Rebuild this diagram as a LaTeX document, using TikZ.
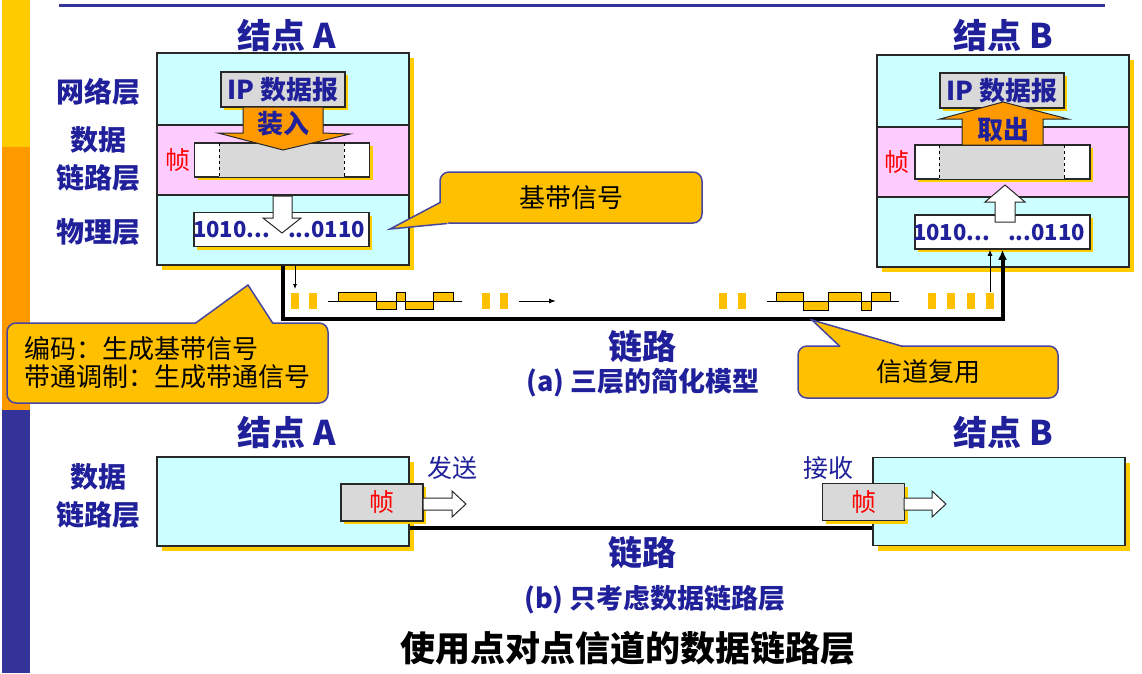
\documentclass[tikz,border=0pt]{standalone}
\usepackage{fontspec}
\setmainfont{Noto Sans CJK SC}
\usetikzlibrary{shadows,calc,arrows.meta}
\definecolor{navy}{RGB}{32,32,154}
\definecolor{stripblue}{RGB}{51,51,153}
\definecolor{cyanlayer}{RGB}{204,255,255}
\definecolor{pinklayer}{RGB}{255,204,255}
\definecolor{shyellow}{RGB}{255,204,0}
\definecolor{orangearrow}{RGB}{255,153,0}
\definecolor{callfill}{RGB}{255,192,0}
\definecolor{callline}{RGB}{70,70,160}
\definecolor{framegray}{RGB}{217,217,217}
\definecolor{edge}{RGB}{40,40,40}

\begin{document}
\begin{tikzpicture}[x=1pt,y=-1pt,
    title/.style={text=navy,font=\bfseries\fontsize{34}{40}\selectfont},
    layer/.style={text=navy,align=center,font=\bfseries\fontsize{28}{38}\selectfont},
    subcap/.style={text=navy,font=\bfseries\fontsize{27}{30}\selectfont},
    smalltext/.style={text=navy,font=\fontsize{25}{28}\selectfont},
    box/.style={draw=edge,line width=1.5pt,inner sep=0pt},
    yshadow/.style={drop shadow={shadow xshift=5pt,shadow yshift=-5pt,fill=shyellow,opacity=1}},
    yshadowsmall/.style={drop shadow={shadow xshift=3pt,shadow yshift=-3pt,fill=shyellow,opacity=1}},
    node box/.style={box,yshadow,fill=cyanlayer,minimum width=252pt},
    ipbox/.style={box,yshadowsmall,fill=framegray,minimum width=124pt,minimum height=35pt,text=navy,font=\bfseries\fontsize{26}{30}\selectfont},
    framebox/.style={box,yshadowsmall,fill=white,minimum width=175pt,minimum height=34pt},
    bits/.style={text=navy,font=\bfseries\fontsize{22}{26}\selectfont,inner sep=0pt},
    zhen/.style={text=red,font=\fontsize{25}{28}\selectfont},
    fatarrow/.style={draw=edge,line width=1pt},
    link/.style={line width=4pt},
    callbox/.style={draw=callline,fill=callfill,line width=1.5pt,rounded corners=9pt,font=\fontsize{26}{28}\selectfont},
    tail/.style={draw=callline,line width=1.5pt},
    pulse/.style={fill=callfill},
    wave/.style={fill=callfill,draw=black,line width=1pt}
  ]
  \useasboundingbox (0,0) rectangle (1142,673);
  \fill[shyellow] (2,0) rectangle (30,147);
  \fill[orangearrow] (2,147) rectangle (30,410);
  \fill[stripblue] (2,410) rectangle (30,673);
  \draw[stripblue,line width=3pt] (59,5) -- (1105,5);

  \node[node box,minimum height=212pt] (A) at (283,159) {};
  \node[box,fill=pinklayer,minimum width=252pt,minimum height=70pt] (Adl) at (283,160) {};
  \node[title] (Atitle) at (287,35) {结点 A};
  \node[layer] (Anet) at (98,92) {网络层};
  \node[layer] (Adll) at (98,159) {数据\\链路层};
  \node[layer] (Aphy) at (98,232) {物理层};
  \node[framebox] (Afr) at (282,160) {};
  \fill[framegray] (219,143.5) rectangle (344,176.5);
  \draw[dashed,line width=1pt] (219,143) -- (219,177) (344,143) -- (344,177);
  \node[zhen] (Azhen) at (178,160) {帧};
  \node[ipbox] (Aip) at (283,89.5) {IP 数据报};
  \filldraw[fatarrow,fill=orangearrow] (243,107) -- (323,107) -- (323,133) -- (350,134) -- (283,150) -- (218,133) -- (243,133) -- cycle;
  \node[layer,font=\bfseries\fontsize{26}{30}\selectfont] (Ain) at (283,124) {装入};
  \node[framebox] (Aph) at (281.5,229.5) {};
  \node[bits,anchor=east] (Abits1) at (270,230) {1010...};
  \node[bits,anchor=west] (Abits2) at (288,230) {...0110};
  \filldraw[fatarrow,fill=white] (273,196) -- (292,196) -- (292,218) -- (301,218) -- (282,233) -- (263,218) -- (273,218) -- cycle;

  \node[node box,minimum height=212pt] (B) at (1003,161) {};
  \node[box,fill=pinklayer,minimum width=252pt,minimum height=70pt] (Bdl) at (1003,162) {};
  \node[title] (Btitle) at (1003,35) {结点 B};
  \node[framebox] (Bfr) at (1002.5,162) {};
  \fill[framegray] (939,145.5) rectangle (1064,178.5);
  \draw[dashed,line width=1pt] (939,145) -- (939,179) (1064,145) -- (1064,179);
  \node[zhen] (Bzhen) at (897,162) {帧};
  \node[ipbox] (Bip) at (1002,90.5) {IP 数据报};
  \filldraw[fatarrow,fill=orangearrow] (962,145) -- (1043,145) -- (1043,119) -- (1068,119) -- (1003,102) -- (940,119) -- (962,119) -- cycle;
  \node[layer,font=\bfseries\fontsize{26}{30}\selectfont] (Bout) at (1003,130) {取出};
  \node[framebox] (Bph) at (1002.5,232) {};
  \node[bits,anchor=east] (Bbits1) at (990,233) {1010...};
  \node[bits,anchor=west] (Bbits2) at (1008,233) {...0110};
  \filldraw[fatarrow,fill=white] (995,222) -- (1015,222) -- (1015,202) -- (1025,202) -- (1005,185) -- (985,202) -- (995,202) -- cycle;

  \draw[link,-{Latex[length=10pt,width=9pt]}] (A.south) -- ++(0,53) -| (Bph.south);
  \coordinate (ta) at (295,289);
  \draw[-{Latex[length=5pt,width=4pt]},line width=0.8pt] (A.south -| ta) -- (ta);
  \coordinate (tb) at (990,292);
  \draw[-{Latex[length=6pt,width=5pt]},line width=1pt] (tb) -- (Bph.south -| tb);
  \foreach \x in {291,309,482,500,719,738,928,947,967,986}
    \fill[pulse] (\x,293) rectangle ++(8,16);
  \draw[line width=1pt] (328,301) -- (462,301) (767,301) -- (899,301);
  \foreach \a/\b/\c in {338/376/292,376/396/309,396/405/292,405/433/309,433/453/292,
                        776/803/292,803/828/310,828/861/292,861/871/310,871/890/292}
    \filldraw[wave] (\a,301) rectangle (\b,\c);
  \coordinate (wa1) at (519,301);
  \coordinate (wa2) at (556,301);
  \draw[-{Latex[length=7pt,width=5pt]},line width=1pt] (wa1) -- (wa2);

  \node[callbox,minimum width=262pt,minimum height=51pt] (cb1) at (571,197.5) {基带信号};
  \fill[callfill] (441,202) -- (390,229) -- (447,223.5) -- (452,219) -- (452,202) -- cycle;
  \draw[tail] (441,202) -- (390,229) -- (447,223.5);
  \node[callbox,minimum width=321pt,minimum height=80pt,align=left] (cb2) at (167.5,363) {编码：生成基带信号\\带通调制：生成带通信号};
  \fill[callfill] (195,324) -- (248,285) -- (273,324) -- (273,328) -- (195,328) -- cycle;
  \draw[tail] (195,323.5) -- (248,285) -- (273,323.5);
  \node[callbox,minimum width=260pt,minimum height=52pt] (cb3) at (928,372) {信道复用};
  \fill[callfill] (840,347) -- (812,320) -- (903,347) -- (903,351) -- (840,351) -- cycle;
  \draw[tail] (840,346.5) -- (812,320) -- (903,346.5);

  \node[title] (linka) at (642,347) {链路};
  \node[subcap] (capa) at (643,383) {(a) 三层的简化模型};

  \node[title] (A2title) at (287,432) {结点 A};
  \node[title] (B2title) at (1003,432) {结点 B};
  \node[layer] (A2dll) at (98,496) {数据\\链路层};
  \node[node box,minimum height=89pt] (A2) at (283,501.5) {};
  \node[node box,minimum height=88pt] (B2) at (999,501.5) {};
  \draw[link] ($(A2.east)+(0,26.5)$) -- ($(B2.west)+(0,26.5)$);
  \node[box,yshadowsmall,fill=framegray,minimum width=82pt,minimum height=37pt,zhen] (A2fr) at (382,502.5) {帧};
  \filldraw[fatarrow,fill=white] (423,498) -- (452,498) -- (452,491) -- (466,504) -- (452,517) -- (452,510) -- (423,510) -- cycle;
  \node[smalltext] (send) at (452,468) {发送};
  \node[box,yshadowsmall,fill=framegray,minimum width=82pt,minimum height=37pt,zhen] (B2fr) at (863.5,502) {帧};
  \filldraw[fatarrow,fill=white] (904,498) -- (932,498) -- (932,491) -- (946,504) -- (932,517) -- (932,510) -- (904,510) -- cycle;
  \node[smalltext] (recv) at (828,468) {接收};
  \node[title] (linkb) at (642,553) {链路};
  \node[subcap] (capb) at (655,600) {(b) 只考虑数据链路层};
  \node[font=\bfseries\fontsize{35}{40}\selectfont] (bottom) at (628,648) {使用点对点信道的数据链路层};
\end{tikzpicture}
\end{document}
